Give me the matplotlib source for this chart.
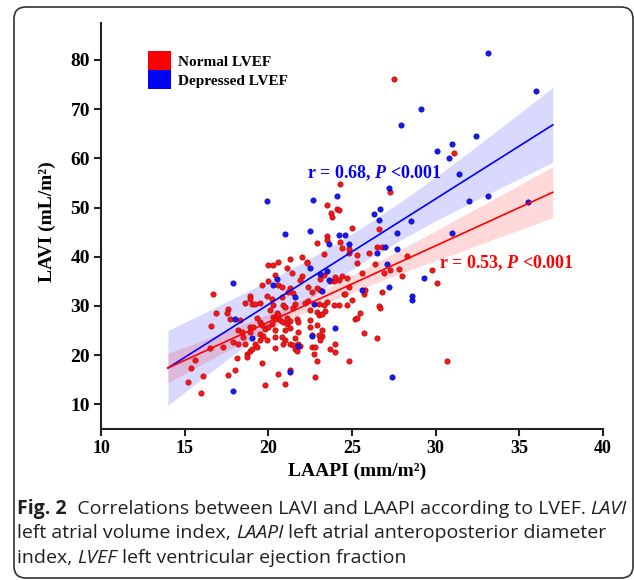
import matplotlib
matplotlib.use("Agg")
import matplotlib.pyplot as plt
from matplotlib.patches import Patch, FancyBboxPatch
from matplotlib.transforms import IdentityTransform

# ---- data ----
red_pts = [
	(16.7,32.4),(16.9,28.5),(16.6,26.0),(17.6,29.3),(17.5,28.5),(17.7,27.3),(17.3,21.7),(16.5,21.5),
	(15.6,19.1),(15.4,17.3),(15.2,14.5),(16.1,15.8),(16.0,12.4),(17.6,16.0),(18.0,16.9),(18.1,19.4),
	(17.9,22.6),(18.2,25.1),(18.3,27.1),(18.4,24.7),(18.5,23.7),(18.2,22.3),(18.6,22.3),(18.7,20.3),
	(18.9,20.9),(18.7,19.6),(19.0,21.3),(18.9,24.7),(18.9,25.7),(19.1,25.7),(18.9,32.0),(18.9,31.5),
	(19.0,30.5),(19.2,30.5),(19.5,30.6),(18.6,30.6),(19.6,34.2),(19.3,27.6),(19.5,26.8),(19.6,26.2),
	(19.8,25.4),(19.5,24.4),(19.7,23.8),(19.9,23.0),(19.5,23.0),(19.6,18.4),(19.8,13.9),(19.2,22.3),
	(19.3,21.7),(20.0,38.3),(20.3,38.4),(20.0,35.1),(20.4,36.3),(20.6,39.0),(20.6,34.2),(19.9,32.0),
	(20.2,31.5),(20.3,30.2),(20.1,29.1),(20.5,28.5),(20.3,27.8),(20.4,27.4),(20.6,28.1),(20.7,27.2),
	(20.2,26.4),(20.0,25.7),(20.4,25.1),(20.4,23.7),(20.4,21.5),(20.6,16.1),(21.0,14.1),(20.8,33.9),
	(20.8,31.9),(20.9,30.2),(21.0,29.8),(20.9,26.8),(21.1,26.4),(21.1,27.6),(21.3,27.0),(21.0,25.1),
	(20.8,23.7),(21.0,23.0),(20.9,22.3),(21.3,22.3),(21.5,22.0),(21.1,37.8),(21.3,39.5),(21.3,33.6),
	(21.2,32.9),(21.4,36.6),(21.5,32.7),(21.6,30.5),(21.5,29.5),(21.3,25.6),(21.7,27.4),(21.8,26.8),
	(21.3,16.9),(21.6,23.4),(21.8,24.7),(21.8,22.3),(21.6,21.3),(21.7,20.9),(21.9,21.8),(22.0,39.9),
	(22.0,36.1),(21.9,35.2),(22.3,39.0),(22.2,30.6),(22.4,31.0),(22.4,33.8),(22.6,32.9),(22.5,29.1),
	(22.5,27.2),(22.5,25.7),(22.6,24.0),(22.6,21.7),(22.7,20.2),(22.9,18.8),(22.8,15.6),(22.8,21.7),
	(22.9,42.7),(22.9,33.6),(22.9,28.8),(23.0,28.1),
	(23.3,40.5),(23.5,44.2),(23.5,43.5),(24.3,42.9),(24.4,41.7),(24.8,41.5),(24.8,40.7),(25.3,40.3),
	(25.3,38.8),(24.4,36.1),(24.2,35.2),(23.9,35.1),(23.7,35.1),(24.0,35.8),(23.3,36.3),(23.1,35.4),
	(24.7,35.6),(24.8,33.8),(24.5,32.5),(24.6,32.5),(25.0,31.2),(24.7,30.2),(24.2,30.2),(23.9,30.2),
	(23.5,30.8),(23.3,30.2),(23.1,33.2),(23.0,30.5),(23.4,29.0),(23.2,28.3),(23.2,25.2),(23.1,23.7),
	(23.2,23.8),(23.7,21.3),(24.0,22.3),(24.0,20.7),(24.8,18.8),(25.2,27.4),(25.3,27.6),(25.5,28.6),
	(25.7,24.5),(25.7,32.5),(25.8,33.2),(25.6,36.6),(26.0,40.7),(26.5,41.9),(26.4,38.5),(26.8,41.9),
	(26.8,32.9),(26.6,30.0),(26.7,29.5),(26.5,23.5),(26.9,36.7),(27.3,37.3),(27.8,37.6),(28.0,36.1),
	(28.3,40.2),(29.8,37.3),(30.1,34.6),(30.7,18.8),(22.9,26.2),(23.0,24.0),(23.1,23.0),(22.3,38.8),
	(27.5,76.1),(31.1,61.0),(24.3,54.7),(27.3,53.2),(23.5,50.5),(23.75,48.8),(23.8,48.1),(24.1,49.7),
	(24.2,49.4),(25.0,45.9),(26.6,45.7),
]
blue_pts = [
	(17.9,34.7),(18.0,27.4),(17.9,12.8),(19.0,23.5),(20.3,34.2),(20.5,35.4),(21.0,44.6),(21.6,31.9),
	(21.3,16.6),(21.8,21.8),(22.5,45.2),(22.5,37.8),(22.7,30.5),(22.6,23.8),(23.1,36.4),
	(24.2,44.5),(24.6,44.5),(23.6,42.6),(24.8,42.5),(23.5,37.1),(23.6,35.2),(23.2,33.1),(25.6,33.2),
	(26.5,40.8),(27.0,41.9),(27.1,38.6),(27.7,41.5),(27.7,44.8),(27.2,33.9),(29.3,35.6),(28.6,32.1),
	(28.6,31.3),(24.0,25.6),(27.4,15.6),(31.0,44.8),
	(33.1,81.5),(36.0,73.6),(29.1,70.0),(27.95,66.8),(32.4,64.6),(31.0,63.0),(30.1,61.5),(30.8,60.0),
	(31.4,56.9),(27.2,53.9),(32.0,51.3),(33.1,52.3),(35.5,51.1),(22.65,51.5),(24.1,52.3),(26.3,48.6),
	(26.7,49.7),(26.6,47.5),(28.5,47.2),(19.9,51.4),
]
red_x = [p[0] for p in red_pts]
red_y = [p[1] for p in red_pts]
blue_x = [p[0] for p in blue_pts]
blue_y = [p[1] for p in blue_pts]

# regression lines and 95% bands
fit_x    = [14, 37]
blue_fit = [17.4, 66.8]
red_fit  = [17.4, 53.1]
band_x    = [14,   16,   18,   20,   22,   24,   26,   28,   30,   32,   34,   37]
blue_low  = [9.8,  15.1, 20.3, 25.5, 30.4, 35.2, 39.6, 43.6, 47.3, 50.8, 54.2, 59.2]
blue_high = [25.0, 28.3, 31.7, 35.1, 38.7, 42.6, 46.8, 51.4, 56.2, 61.3, 66.5, 74.4]
red_low   = [14.4, 18.1, 21.7, 25.1, 28.4, 31.3, 34.1, 36.7, 39.2, 41.7, 44.2, 47.9]
red_high  = [20.4, 22.9, 25.6, 28.3, 31.2, 34.5, 38.0, 41.6, 45.3, 49.0, 52.7, 58.3]

labels = ["Normal LVEF", "Depressed LVEF"]
blue_txt = r"r = 0.68, $P$ <0.001"
red_txt  = r"r = 0.53, $P$ <0.001"

caption = [
	[("Fig. 2", "bold"), ("  Correlations between LAVI and LAAPI according to LVEF. ", "normal"), ("LAVI", "italic")],
	[("left atrial volume index, ", "normal"), ("LAAPI", "italic"), (" left atrial anteroposterior diameter", "normal")],
	[("index, ", "normal"), ("LVEF", "italic"), (" left ventricular ejection fraction", "normal")],
]

# ---- style ----
plt.rcParams['font.family'] = 'Liberation Serif'
plt.rcParams['font.weight'] = 'bold'
plt.rcParams['mathtext.fontset'] = 'custom'
plt.rcParams['mathtext.rm'] = 'Liberation Serif:bold'
plt.rcParams['mathtext.it'] = 'Liberation Serif:italic:bold'
plt.rcParams['mathtext.bf'] = 'Liberation Serif:bold'

W, H = 634, 580
fig = plt.figure(figsize=(W/100, H/100), dpi=100)
ax = fig.add_axes([101/W, 1 - 429/H, 502/W, 406/H])

ax.fill_between(band_x, blue_low, blue_high, color='#0000ff', alpha=0.15, lw=0, zorder=1)
ax.fill_between(band_x, red_low, red_high, color='#ff0000', alpha=0.15, lw=0, zorder=1)

ax.scatter(red_x, red_y, s=15, c='#f01818', edgecolors='#b00000', linewidths=0.4, zorder=3)
ax.scatter(blue_x, blue_y, s=15, c='#1818f0', edgecolors='#0000a0', linewidths=0.4, zorder=3)

ax.plot(fit_x, blue_fit, color='#0000ff', lw=1.2, zorder=4)
ax.plot(fit_x, red_fit, color='#ff0000', lw=1.2, zorder=4)

ax.text(22.3, 57.0, blue_txt, color='#0000ff', fontsize=13, ha='left', va='center')
ax.text(30.2, 38.7, red_txt, color='#ff0000', fontsize=13, ha='left', va='center')

ax.set_xlim(10, 40)
ax.set_ylim(5, 87.5)
ax.set_xticks([10, 15, 20, 25, 30, 35, 40])
ax.set_yticks([10, 20, 30, 40, 50, 60, 70, 80])
for side in ['top', 'right']:
	ax.spines[side].set_visible(False)
for side in ['left', 'bottom']:
	ax.spines[side].set_linewidth(1.5)
	ax.spines[side].set_color('#222222')
ax.tick_params(axis='both', direction='out', length=5, width=1.5, color='#222222', pad=3)
ax.tick_params(axis='x', labelsize=13)
ax.tick_params(axis='y', labelsize=14)

ax.set_xlabel("LAAPI (mm/m²)", fontsize=14, fontweight='bold')
ax.set_ylabel("LAVI (mL/m²)", fontsize=14, fontweight='bold')
ax.xaxis.set_label_coords(0.51, -0.082)
ax.yaxis.set_label_coords(-0.09, 0.51)

handles = [Patch(facecolor='#ff0000', edgecolor='none'), Patch(facecolor='#0000ff', edgecolor='none')]
ax.legend(handles, labels, loc='upper left', bbox_to_anchor=(0.094, 0.931), frameon=False,
	handlelength=1.5, handleheight=1.55, labelspacing=0, handletextpad=0.45,
	borderpad=0, borderaxespad=0, prop={'family': 'Liberation Serif', 'weight': 'bold', 'size': 11})

# rounded frame around the panel
frame = FancyBboxPatch((14, 2), 619, 571, boxstyle="round,pad=0,rounding_size=12",
	transform=IdentityTransform(), fill=False, lw=1.2, ec='#333333')
fig.add_artist(frame)

# caption, written piece by piece
renderer = fig.canvas.get_renderer()
line_y = [509, 533, 558]
for line, yy in zip(caption, line_y):
	x = 17
	for txt, style in line:
		kw = dict(family='Open Sans', fontsize=14, color='#231f20', va='center', ha='left')
		if style == 'bold':
			kw['fontweight'] = 'bold'
		else:
			kw['fontweight'] = 'normal'
		if style == 'italic':
			kw['fontstyle'] = 'italic'
		t = fig.text(x/W, 1 - yy/H, txt, **kw)
		bb = t.get_window_extent(renderer)
		x = bb.x1

fig.savefig("out.png", dpi=100)
plt.close(fig)
